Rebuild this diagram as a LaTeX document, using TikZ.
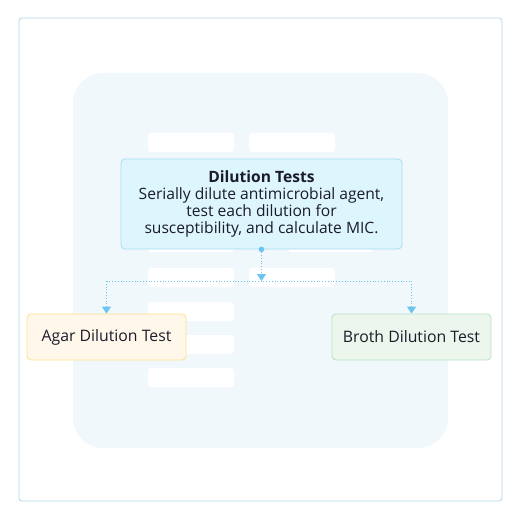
\documentclass[tikz,border=0pt]{standalone}
\usepackage{fontspec}
\setmainfont{Open Sans}
\usepackage{tikz}
\usetikzlibrary{arrows.meta,positioning,calc}
\definecolor{frameline}{HTML}{B3D4EC}
\definecolor{panel}{HTML}{F1F8FC}
\definecolor{mainfill}{HTML}{DDF5FD}
\definecolor{mainline}{HTML}{A6DCF0}
\definecolor{agarfill}{HTML}{FFF8EA}
\definecolor{agarline}{HTML}{FDE08E}
\definecolor{brothfill}{HTML}{ECF6EC}
\definecolor{brothline}{HTML}{B6E2C6}
\definecolor{link}{HTML}{6CC5EE}
\definecolor{ink}{HTML}{1B1B2B}

\begin{document}
\begin{tikzpicture}[x=1pt,y=-1pt,
    every node/.style={font=\fontsize{15.6}{16.8}\selectfont,text=ink},
    blank/.style={fill=white,rounded corners=3pt},
    box/.style={draw,rounded corners=4pt,line width=0.8pt,align=center,inner sep=0pt},
    conn/.style={link,line width=0.8pt,dotted,-{Triangle[length=7pt,width=9pt]}},
    bus/.style={link,line width=0.8pt,dotted}
]
\useasboundingbox (0,0) rectangle (521,521);
% backdrop
\draw[frameline,rounded corners=3pt,line width=0.8pt] (19,18) rectangle (502,501);
\fill[panel,rounded corners=30pt] (73,73) rectangle (448,448);
\foreach \y in {133,268} {
  \fill[blank] (148,\y) rectangle (234,\y+19);
  \fill[blank] (249,\y) rectangle (335,\y+19);
}
\fill[blank] (148,233) rectangle (234,252);
\fill[blank] (288,233) rectangle (373,252);
\foreach \y in {302,335,368} {
  \fill[blank] (148,\y) rectangle (234,\y+19);
}

\node[box,draw=mainline,fill=mainfill,minimum width=281pt,minimum height=90pt] (dil) at (261.5,204)
  {\textbf{Dilution Tests}\\Serially dilute antimicrobial agent,\\test each dilution for\\susceptibility, and calculate MIC.};
\node[box,draw=agarline,fill=agarfill,minimum width=159pt,minimum height=46pt,font=\fontsize{15.8}{18}\selectfont] (agar) at (106.5,337) {Agar Dilution Test};
\node[box,draw=brothline,fill=brothfill,minimum width=159pt,minimum height=46pt,font=\fontsize{15.8}{18}\selectfont] (broth) at (411.5,337) {Broth Dilution Test};

\coordinate (split) at (261.5,281);
\fill[link] (dil.south) circle (2.8pt);
\draw[conn] (dil.south) -- (split);
\draw[bus] (split -| agar.north) -- (split -| broth.north);
\draw[conn] (split -| agar.north) -- (agar.north);
\draw[conn] (split -| broth.north) -- (broth.north);
\end{tikzpicture}
\end{document}
